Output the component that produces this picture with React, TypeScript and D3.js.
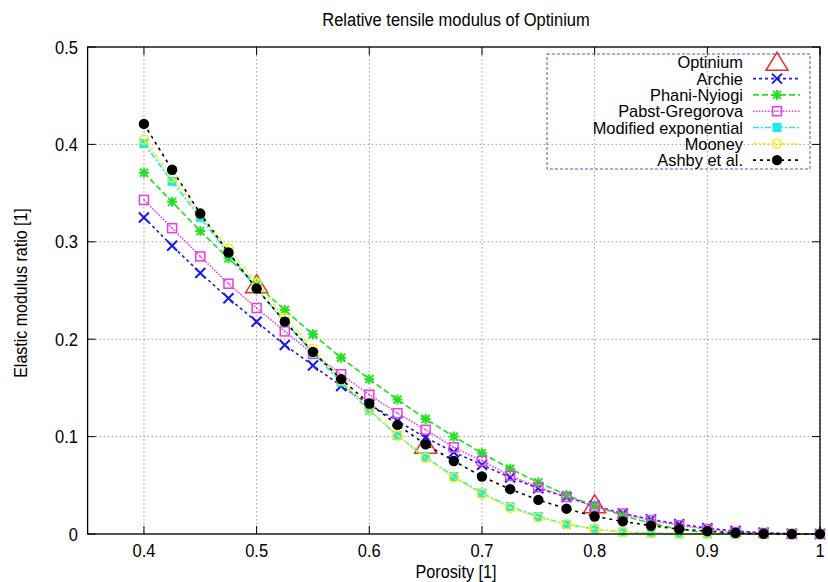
import React from "react";
import * as d3 from "d3";

const porosity = [0.4, 0.425, 0.45, 0.475, 0.5, 0.525, 0.55, 0.575, 0.6, 0.625, 0.65, 0.675, 0.7, 0.725, 0.75, 0.775, 0.8, 0.825, 0.85, 0.875, 0.9, 0.925, 0.95, 0.975, 1.0];

const archie = [0.325, 0.296, 0.268, 0.242, 0.218, 0.194, 0.173, 0.152, 0.133, 0.116, 0.099, 0.084, 0.071, 0.058, 0.047, 0.038, 0.029, 0.021, 0.015, 0.010, 0.006, 0.003, 0.0014, 0.0003, 0];
const phani = [0.371, 0.341, 0.311, 0.283, 0.256, 0.230, 0.205, 0.181, 0.159, 0.138, 0.118, 0.100, 0.083, 0.067, 0.053, 0.040, 0.029, 0.019, 0.011, 0.005, 0.001, 0, 0, 0, 0];
const pabst = [0.343, 0.314, 0.285, 0.257, 0.232, 0.208, 0.185, 0.164, 0.143, 0.124, 0.107, 0.089, 0.075, 0.060, 0.048, 0.038, 0.028, 0.021, 0.014, 0.009, 0.005, 0.002, 0.001, 0, 0];
const modExp = [0.401, 0.362, 0.325, 0.288, 0.252, 0.218, 0.186, 0.156, 0.127, 0.101, 0.079, 0.059, 0.042, 0.028, 0.018, 0.010, 0.005, 0.002, 0.001, 0, 0, 0, 0, 0, 0];
const mooney = [0.405, 0.366, 0.329, 0.293, 0.258, 0.222, 0.190, 0.158, 0.128, 0.101, 0.078, 0.058, 0.041, 0.027, 0.017, 0.010, 0.005, 0.002, 0.001, 0.0002, 0, 0, 0, 0, 0];
const ashby = [0.421, 0.374, 0.329, 0.289, 0.252, 0.218, 0.187, 0.159, 0.134, 0.112, 0.092, 0.075, 0.059, 0.046, 0.035, 0.026, 0.018, 0.013, 0.0085, 0.005, 0.003, 0.001, 0.0003, 0, 0];

const optiniumX = [0.5, 0.65, 0.8];
const optiniumY = [0.256, 0.091, 0.030];

const xTicks = [0.4, 0.5, 0.6, 0.7, 0.8, 0.9, 1];
const xTickLabels = ["0.4", "0.5", "0.6", "0.7", "0.8", "0.9", "1"];
const yTicks = [0, 0.1, 0.2, 0.3, 0.4, 0.5];
const yTickLabels = ["0", "0.1", "0.2", "0.3", "0.4", "0.5"];

const title = "Relative tensile modulus of Optinium";
const xLabel = "Porosity [1]";
const yLabel = "Elastic modulus ratio [1]";

type Marker = "triangle" | "cross" | "star" | "openSquare" | "filledSquare" | "openCircle" | "filledCircle";

interface Series {
  name: string;
  x: number[];
  y: number[];
  color: string;
  dash: string | null;
  marker: Marker;
}

const series: Series[] = [
  { name: "Optinium", x: optiniumX, y: optiniumY, color: "#e8302a", dash: null, marker: "triangle" },
  { name: "Archie", x: porosity, y: archie, color: "#1a1ae6", dash: "3,3", marker: "cross" },
  { name: "Phani-Nyiogi", x: porosity, y: phani, color: "#22e022", dash: "6,3", marker: "star" },
  { name: "Pabst-Gregorova", x: porosity, y: pabst, color: "#e83ce8", dash: "1.5,1.5", marker: "openSquare" },
  { name: "Modified exponential", x: porosity, y: modExp, color: "#22e8e8", dash: "6,2,2,2", marker: "filledSquare" },
  { name: "Mooney", x: porosity, y: mooney, color: "#f0f020", dash: "4,2,1.5,2", marker: "openCircle" },
  { name: "Ashby et al.", x: porosity, y: ashby, color: "#000000", dash: "3,4", marker: "filledCircle" },
];

const W = 828;
const H = 582;
const L = 87.6;
const R = 820;
const T = 47;
const B = 534;

const FONT = "'Liberation Sans', Arial, Helvetica, sans-serif";
const SY = 1.1;

function MarkerShape({ m, x, y, c }: { m: Marker; x: number; y: number; c: string }) {
  const t = `translate(${x},${y})`;
  switch (m) {
    case "triangle":
      return <path transform={t} d="M0,-10L11,8L-11,8Z" fill="none" stroke={c} strokeWidth={1.5} />;
    case "cross":
      return <path transform={t} d="M-5,-5L5,5M-5,5L5,-5" fill="none" stroke={c} strokeWidth={2} />;
    case "star":
      return <path transform={t} d="M-5,0H5M0,-5V5M-4,-4L4,4M-4,4L4,-4" fill="none" stroke={c} strokeWidth={2} />;
    case "openSquare":
      return (
        <g transform={t}>
          <rect x={-4.5} y={-4.5} width={9} height={9} fill="none" stroke={c} strokeWidth={1.5} />
          <circle r={0.8} fill={c} />
        </g>
      );
    case "filledSquare":
      return <rect transform={t} x={-4.5} y={-4.5} width={9} height={9} fill={c} />;
    case "openCircle":
      return <circle transform={t} r={4.5} fill="none" stroke={c} strokeWidth={1.6} />;
    case "filledCircle":
      return <circle transform={t} r={5.2} fill={c} />;
  }
}

function T2({ x, y, anchor, size, sy = SY, children }: { x: number; y: number; anchor: string; size: number; sy?: number; children: React.ReactNode }) {
  return (
    <text transform={`translate(${x},${y}) scale(1,${sy})`} textAnchor={anchor as any} fontSize={size} fill="#000">
      {children}
    </text>
  );
}

export default function App() {
  const x = d3.scaleLinear().domain([0.35, 1]).range([L, R]);
  const y = d3.scaleLinear().domain([0, 0.5]).range([B, T]);
  const line = d3
    .line<[number, number]>()
    .x((d) => x(d[0]))
    .y((d) => y(d[1]));

  const legendRows = series.map((s, i) => ({ s, yy: 62.3 + i * 16.3 }));

  return (
    <svg
      width={W}
      height={H}
      style={{ position: "absolute", left: 0, top: 0, background: "#fff" }}
      fontFamily={FONT}
    >
      <rect x={0} y={0} width={W} height={H} fill="#fff" />
      {/* grid */}
      <g stroke="#9a9a9a" strokeWidth={1} strokeDasharray="1.5,2.5">
        {xTicks.map((v) => (
          <line key={"gx" + v} x1={x(v)} x2={x(v)} y1={T} y2={B} />
        ))}
        {yTicks.map((v) => (
          <line key={"gy" + v} x1={L} x2={R} y1={y(v)} y2={y(v)} />
        ))}
      </g>
      {/* ticks */}
      <g stroke="#000" strokeWidth={1}>
        {xTicks.map((v) => (
          <g key={"tx" + v}>
            <line x1={x(v)} x2={x(v)} y1={B} y2={B - 8} />
            <line x1={x(v)} x2={x(v)} y1={T} y2={T + 8} />
          </g>
        ))}
        {yTicks.map((v) => (
          <g key={"ty" + v}>
            <line x1={L} x2={L + 8} y1={y(v)} y2={y(v)} />
            <line x1={R} x2={R - 8} y1={y(v)} y2={y(v)} />
          </g>
        ))}
      </g>
      {/* series */}
      {series.map((s) => {
        const pts: [number, number][] = s.x.map((xv, i) => [xv, s.y[i]]);
        return (
          <g key={s.name}>
            {s.dash !== null && (
              <path d={line(pts) || ""} fill="none" stroke={s.color} strokeWidth={1.6} strokeDasharray={s.dash} />
            )}
            {pts.map((p, i) => (
              <MarkerShape key={i} m={s.marker} x={x(p[0])} y={y(p[1])} c={s.color} />
            ))}
          </g>
        );
      })}
      {/* frame */}
      <rect x={L} y={T} width={R - L} height={B - T} fill="none" stroke="#000" strokeWidth={1.3} />
      {/* tick labels */}
      {xTicks.map((v, i) => (
        <T2 key={"lx" + v} x={x(v)} y={557} anchor="middle" size={16.5}>
          {xTickLabels[i]}
        </T2>
      ))}
      {yTicks.map((v, i) => (
        <T2 key={"ly" + v} x={78} y={y(v) + 6.5} anchor="end" size={16.5}>
          {yTickLabels[i]}
        </T2>
      ))}
      {/* titles */}
      <T2 x={456} y={26} anchor="middle" size={16.5}>
        {title}
      </T2>
      <T2 x={456} y={577.5} anchor="middle" size={16.2}>
        {xLabel}
      </T2>
      <text transform={`translate(27,293) rotate(-90) scale(1,${SY})`} textAnchor="middle" fontSize={16} fill="#000">
        {yLabel}
      </text>
      {/* legend */}
      <rect x={547} y={54} width={263} height={115} fill="none" stroke="#5555c8" strokeWidth={1} strokeDasharray="3,2" />
      {legendRows.map(({ s, yy }) => (
        <g key={"lg" + s.name}>
          <T2 x={743} y={yy + 6} anchor="end" size={16.4} sy={1}>
            {s.name}
          </T2>
          {s.dash !== null && (
            <line x1={753} x2={800} y1={yy} y2={yy} stroke={s.color} strokeWidth={1.6} strokeDasharray={s.dash} />
          )}
          <MarkerShape m={s.marker} x={777} y={yy} c={s.color} />
        </g>
      ))}
    </svg>
  );
}
